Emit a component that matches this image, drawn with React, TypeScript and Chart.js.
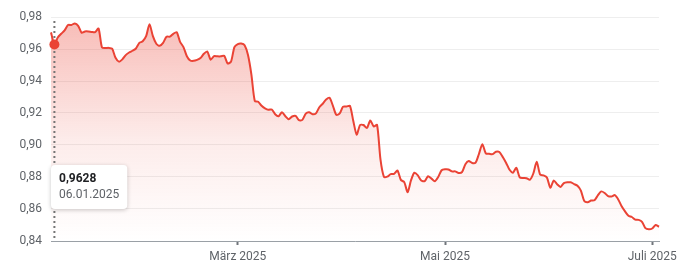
import React, { useEffect, useRef } from "react";
import { Chart, registerables } from "chart.js";

Chart.register(...registerables);

// First date of the daily series (UTC), one value per calendar day
const START_DATE = "2025-01-05";

const VALUES: number[] = [
  0.9704, 0.9628, 0.9672, 0.9695, 0.9716, 0.975, 0.975, 0.976, 0.9745, 0.9702,
  0.971, 0.971, 0.9707, 0.9706, 0.9728, 0.961, 0.9606, 0.9607, 0.9602, 0.9545,
  0.9521, 0.9535, 0.9562, 0.9578, 0.9589, 0.9603, 0.9638, 0.9648, 0.968, 0.9755,
  0.968, 0.9633, 0.962, 0.9638, 0.9677, 0.9677, 0.9695, 0.9705, 0.9645, 0.9612,
  0.9555, 0.9528, 0.9526, 0.9532, 0.9543, 0.957, 0.9585, 0.9533, 0.9556, 0.9554,
  0.9554, 0.9558, 0.951, 0.9521, 0.9612, 0.9631, 0.9634, 0.9623, 0.9562, 0.944,
  0.9275, 0.927, 0.9245, 0.9229, 0.922, 0.9222, 0.9192, 0.918, 0.9205, 0.918,
  0.9161, 0.9178, 0.9182, 0.9155, 0.9157, 0.9196, 0.9205, 0.9192, 0.9198, 0.9236,
  0.9258, 0.9284, 0.9295, 0.9245, 0.9188, 0.9197, 0.924, 0.924, 0.9245, 0.915,
  0.9065, 0.9125, 0.9125, 0.9106, 0.9153, 0.9116, 0.9125, 0.891, 0.8802, 0.8802,
  0.8818, 0.8819, 0.884, 0.8782, 0.8768, 0.8705, 0.878, 0.8827, 0.881, 0.8778,
  0.8774, 0.8805, 0.879, 0.8774, 0.88, 0.8842, 0.8848, 0.8847, 0.8835, 0.8835,
  0.8825, 0.883, 0.888, 0.89, 0.8887, 0.889, 0.8945, 0.9005, 0.8948, 0.8945,
  0.8943, 0.8958, 0.8956, 0.8925, 0.8888, 0.8845, 0.8827, 0.8857, 0.8798, 0.8794,
  0.8792, 0.8783, 0.8822, 0.8895, 0.8815, 0.881, 0.8797, 0.8733, 0.8778, 0.8755,
  0.8738, 0.8762, 0.8767, 0.8767, 0.8756, 0.8745, 0.8715, 0.865, 0.8642, 0.8653,
  0.8655, 0.8685, 0.871, 0.87, 0.8681, 0.8678, 0.8687, 0.866, 0.8617, 0.8585,
  0.8558, 0.855, 0.8534, 0.8532, 0.852, 0.848, 0.8473, 0.8478, 0.85, 0.8489,
];

const Y_TICKS: number[] = [0.84, 0.86, 0.88, 0.9, 0.92, 0.94, 0.96, 0.98];
const MONTH_TICK_DATES: string[] = ["01.03.2025", "01.05.2025", "01.07.2025"];
const MONTH_TICK_LABELS: string[] = ["März 2025", "Mai 2025", "Juli 2025"];
const HIGHLIGHT_DATE = "06.01.2025";

function buildDates(start: string, n: number): string[] {
  const [y, m, d] = start.split("-").map(Number);
  const out: string[] = [];
  for (let i = 0; i < n; i++) {
    const dt = new Date(Date.UTC(y, m - 1, d + i));
    const dd = String(dt.getUTCDate()).padStart(2, "0");
    const mm = String(dt.getUTCMonth() + 1).padStart(2, "0");
    out.push(`${dd}.${mm}.${dt.getUTCFullYear()}`);
  }
  return out;
}

const DATES = buildDates(START_DATE, VALUES.length);

const fmt = (v: number, digits: number) => v.toFixed(digits).replace(".", ",");

const LINE_COLOR = "#ea4335";
const FONT_FAMILY = "Roboto, 'Noto Sans', sans-serif";

const highlightPlugin = {
  id: "highlight",
  afterDatasetsDraw(chart: any) {
    const idx = DATES.indexOf(HIGHLIGHT_DATE);
    if (idx < 0) return;
    const meta = chart.getDatasetMeta(0);
    const pt = meta.data[idx];
    if (!pt) return;
    const { ctx, chartArea } = chart;
    const x = pt.x;
    const y = pt.y;

    // dotted hover line
    ctx.save();
    ctx.strokeStyle = "#757575";
    ctx.lineWidth = 2;
    ctx.setLineDash([2, 3]);
    ctx.beginPath();
    ctx.moveTo(x, chartArea.top + 4);
    ctx.lineTo(x, chartArea.bottom);
    ctx.stroke();
    ctx.restore();

    // marker
    ctx.save();
    ctx.fillStyle = LINE_COLOR;
    ctx.beginPath();
    ctx.arc(x, y, 5, 0, Math.PI * 2);
    ctx.fill();
    ctx.restore();

    // tooltip box
    const title = fmt(VALUES[idx], 4);
    const sub = HIGHLIGHT_DATE;
    ctx.save();
    ctx.font = `bold 12px ${FONT_FAMILY}`;
    const w1 = ctx.measureText(title).width;
    ctx.font = `12px ${FONT_FAMILY}`;
    const w2 = ctx.measureText(sub).width;
    const bw = Math.max(w1, w2) + 16;
    const bh = 44;
    const bx = chartArea.left;
    const by = chartArea.bottom - 32 - bh;
    ctx.shadowColor = "rgba(0,0,0,0.22)";
    ctx.shadowBlur = 4;
    ctx.shadowOffsetY = 1;
    ctx.fillStyle = "#ffffff";
    ctx.beginPath();
    if ((ctx as any).roundRect) {
      (ctx as any).roundRect(bx, by, bw, bh, 4);
    } else {
      ctx.rect(bx, by, bw, bh);
    }
    ctx.fill();
    ctx.shadowColor = "transparent";
    ctx.shadowBlur = 0;
    ctx.shadowOffsetY = 0;
    ctx.textBaseline = "middle";
    ctx.textAlign = "left";
    ctx.font = `bold 12px ${FONT_FAMILY}`;
    ctx.fillStyle = "#202124";
    ctx.fillText(title, bx + 8, by + 14);
    ctx.font = `12px ${FONT_FAMILY}`;
    ctx.fillStyle = "#5f6368";
    ctx.fillText(sub, bx + 8, by + 30);
    ctx.restore();
  },
};

export default function App() {
  const canvasRef = useRef<HTMLCanvasElement | null>(null);

  useEffect(() => {
    const canvas = canvasRef.current;
    if (!canvas) return;
    const chart = new Chart(canvas, {
      type: "line",
      data: {
        labels: DATES,
        datasets: [
          {
            data: VALUES,
            borderColor: LINE_COLOR,
            borderWidth: 2,
            pointRadius: 0,
            tension: 0.25,
            fill: "start",
            backgroundColor: (context: any) => {
              const { chart } = context;
              const { ctx, chartArea } = chart;
              if (!chartArea) return "rgba(234,67,53,0.2)";
              const g = ctx.createLinearGradient(0, chartArea.top, 0, chartArea.bottom);
              g.addColorStop(0, "rgba(234,67,53,0.36)");
              g.addColorStop(0.55, "rgba(234,67,53,0.10)");
              g.addColorStop(1, "rgba(234,67,53,0.0)");
              return g;
            },
          },
        ],
      },
      options: {
        animation: false,
        responsive: false,
        devicePixelRatio: 1,
        layout: { padding: { left: 0, right: 38, top: 17, bottom: 0 } },
        plugins: {
          legend: { display: false },
          tooltip: { enabled: false },
        },
        scales: {
          x: {
            type: "category",
            grid: {
              display: true,
              drawOnChartArea: false,
              drawTicks: true,
              tickLength: 4,
              tickWidth: 2,
              tickColor: "#70757a",
            },
            border: { display: true, color: "#9aa0a6", width: 1 },
            ticks: {
              autoSkip: false,
              maxRotation: 0,
              minRotation: 0,
              padding: 5,
              color: "#5f6368",
              font: { family: FONT_FAMILY, size: 12 },
              callback: (value: any) => {
                const d = DATES[value as number];
                const k = MONTH_TICK_DATES.indexOf(d);
                return k >= 0 ? MONTH_TICK_LABELS[k] : null;
              },
            },
            afterBuildTicks: (scale: any) => {
              scale.ticks = MONTH_TICK_DATES.map((d) => ({ value: DATES.indexOf(d) })).filter(
                (t) => t.value >= 0
              );
            },
            afterFit: (scale: any) => {
              scale.height = 35;
            },
          },
          y: {
            min: 0.84,
            max: 0.98,
            grid: { color: "#eeeeee", lineWidth: 1, drawTicks: false },
            border: { display: false },
            ticks: {
              padding: 9,
              color: "#5f6368",
              font: { family: FONT_FAMILY, size: 12 },
              callback: (value: any) => fmt(Number(value), 2),
            },
            afterBuildTicks: (scale: any) => {
              scale.ticks = Y_TICKS.map((v) => ({ value: v }));
            },
            afterFit: (scale: any) => {
              scale.width = 51;
            },
          },
        },
      },
      plugins: [highlightPlugin],
    } as any);
    return () => chart.destroy();
  }, []);

  return (
    <div style={{ position: "fixed", left: 0, top: 0, width: 697, height: 276, background: "#fff" }}>
      <canvas ref={canvasRef} width={697} height={276} style={{ display: "block", width: 697, height: 276 }} />
    </div>
  );
}
